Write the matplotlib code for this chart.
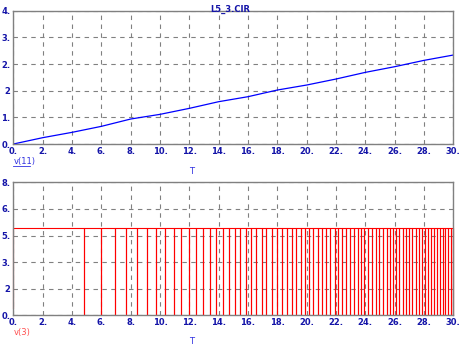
import numpy as np
import matplotlib.pyplot as plt
from matplotlib.lines import Line2D

# top trace v(11)
t_v11 = [0, 2, 4, 6, 8, 10, 12, 14, 16, 18, 20, 22, 24, 26, 28, 30]
v11 = [0, 0.19, 0.35, 0.53, 0.75, 0.89, 1.07, 1.27, 1.42, 1.62, 1.77, 1.95, 2.15, 2.32, 2.51, 2.67]

# bottom trace v(3): high level, start value and the times of the narrow pulses
v3_high = 5.27
v3_start = 0.42
pulse_t = [4.82, 5.96, 6.91, 7.70, 8.45, 9.13, 9.75, 10.37, 10.92, 11.45, 11.98, 12.48,
           12.94, 13.38, 13.84, 14.27, 14.68, 15.08, 15.47, 15.88, 16.23, 16.57, 16.98,
           17.25, 17.66, 17.98, 18.34, 18.66, 18.98, 19.25, 19.59, 19.91, 20.16, 20.43,
           20.75, 21.07, 21.34, 21.61, 21.91, 22.16, 22.43, 22.70, 22.98, 23.23, 23.48,
           23.73, 23.93, 24.18, 24.46, 24.71, 24.95, 25.20, 25.45, 25.66, 25.89, 26.09,
           26.30, 26.57, 26.77, 26.98, 27.18, 27.43, 27.66, 27.86, 28.09, 28.30, 28.50,
           28.70, 28.89, 29.07, 29.27, 29.46, 29.66, 29.82, 30.0]

x_ticks = list(range(0, 31, 2))
x_labels = [str(v) + '.' for v in x_ticks]
top_yticks = [0, 0.8, 1.6, 2.4, 3.2, 4.0]
top_ylabels = ['0.', '1.', '2', '2.', '3.', '4.']
bot_yticks = [0, 1.6, 3.2, 4.8, 6.4, 8.0]
bot_ylabels = ['0.', '2', '3.', '5.', '6.', '8.']

lab_col = '#1414A8'
grid_col = '#808080'

fig = plt.figure(figsize=(4.75, 3.51), dpi=100)
ax1 = fig.add_axes([0.0281, 0.5897, 0.9263, 0.3798])
ax2 = fig.add_axes([0.0281, 0.1017, 0.9263, 0.3789])

def style(ax, yticks, ylabels, ymax):
    ax.set_xlim(0, 30)
    ax.set_ylim(0, ymax)
    ax.set_xticks(x_ticks)
    ax.set_xticklabels(x_labels)
    ax.set_yticks(yticks)
    ax.set_yticklabels(ylabels)
    ax.tick_params(length=0, pad=2, labelsize=6, labelcolor=lab_col)
    for lab in ax.get_xticklabels() + ax.get_yticklabels():
        lab.set_fontweight('bold')
    ax.grid(True, color=grid_col, linestyle=(0, (4, 4)), linewidth=0.8)
    for s in ax.spines.values():
        s.set_color(grid_col)
        s.set_linewidth(1.0)

style(ax1, top_yticks, top_ylabels, 4.0)
style(ax2, bot_yticks, bot_ylabels, 8.0)

ax1.plot(t_v11, v11, color='#0000FF', linewidth=0.9)

# build the v(3) waveform: a flat top with a down/up edge at every pulse time
xs = [0, 0]
ys = [v3_start, v3_high]
for t in pulse_t:
    xs += [t, t, t]
    ys += [v3_high, 0, v3_high]
ax2.plot(xs, ys, color='#FF0000', linewidth=0.8, clip_on=False)

fig.text(0.484, 0.987, 'L5_3.CIR', color=lab_col, fontsize=6, fontweight='bold',
         ha='center', va='top')
fig.text(0.028, 0.541, 'v(11)', color='#3030E0', fontsize=6, ha='left', va='center')
fig.add_artist(Line2D([0.028, 0.064], [0.527, 0.527], color='#3030E0', linewidth=0.6))
fig.text(0.404, 0.511, 'T', color='#3030E0', fontsize=6, ha='center', va='center')
fig.text(0.028, 0.052, 'v(3)', color='#FF5050', fontsize=6, ha='left', va='center')
fig.text(0.404, 0.026, 'T', color='#3030E0', fontsize=6, ha='center', va='center')

plt.savefig('out.png', dpi=100)
